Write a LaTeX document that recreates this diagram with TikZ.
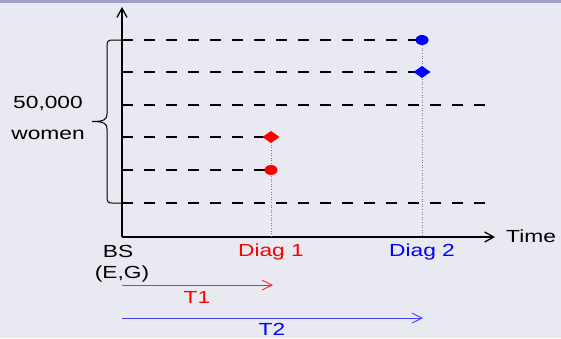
\documentclass[tikz,border=0pt]{standalone}
\usepackage{fontspec}
\setmainfont{Liberation Sans}[FakeStretch=1.3]
\usetikzlibrary{arrows.meta,shapes.geometric}
\definecolor{bg}{RGB}{233,233,242}
\definecolor{band}{RGB}{160,160,204}
\definecolor{myred}{RGB}{255,0,0}
\definecolor{myblue}{RGB}{0,0,255}
\definecolor{arrred}{RGB}{255,40,40}
\definecolor{arrblue}{RGB}{70,70,255}
\begin{document}
\begin{tikzpicture}[x=1pt,y=-1pt,
  lbl/.style={font=\fontsize{17.5}{20}\selectfont, inner sep=0pt},
  dashline/.style={line width=2pt, dash pattern=on 11pt off 11pt},
  axis/.style={line width=1.3pt, -{Straight Barb[length=9pt,width=10pt]}},
  dotline/.style={line width=0.9pt, gray, dash pattern=on 1pt off 1.6pt},
  rnddot/.style={ellipse, minimum width=13pt, minimum height=10pt, inner sep=0pt, outer sep=0pt},
  dmnd/.style={diamond, minimum width=17pt, minimum height=12pt, inner sep=0pt, outer sep=0pt},
  tarrow/.style={line width=0.9pt, -{Straight Barb[length=10pt,width=10pt]}}
]
\useasboundingbox (0,0) rectangle (561,338);
\fill[bg] (0,0) rectangle (561,338);
\fill[band] (0,0) rectangle (561,2.5);

% axes
\coordinate (O) at (122,237);
\coordinate (ytop) at (122,7);
\coordinate (xend) at (495,237);
\draw[axis] (O) -- (ytop);
\draw[axis] (O) -- (xend);
\node[lbl, anchor=west] (time) at (506,236) {Time};

% row starts / ends
\foreach \n/\y in {1/40,2/72,3/105,4/137,5/170,6/203}{
  \coordinate (s\n) at (122,\y);
}
\coordinate (e3) at (485,105);
\coordinate (e6) at (485,203);
\coordinate (d1) at (271,237);
\coordinate (d2) at (422,237);
\coordinate (m1) at (422,40);
\coordinate (m2) at (422,72);
\coordinate (m4) at (271,137);
\coordinate (m5) at (271,170);

\draw[dashline] (s1) -- (m1);
\draw[dashline] (s2) -- (m2);
\draw[dashline] (s3) -- (e3);
\draw[dashline] (s4) -- (m4);
\draw[dashline] (s5) -- (m5);
\draw[dashline] (s6) -- (e6);

\draw[dotline] (m1) -- (d2);
\draw[dotline] (m4) -- (d1);

% markers
\node[rnddot, fill=myblue] (b1) at (m1) {};
\node[dmnd, fill=myblue] (b2) at (m2) {};
\node[dmnd, fill=myred] (r1) at (m4) {};
\node[rnddot, fill=myred] (r2) at (m5) {};

% brace
\draw[line width=1pt] (s1) -- (112,40) .. controls (108.5,40) and (107,41.5) .. (107,45)
  -- (107,114) .. controls (107,119.5) and (104,121.5) .. (92,121.5)
  .. controls (104,121.5) and (107,123.5) .. (107,129)
  -- (107,198) .. controls (107,201.5) and (108.5,203) .. (112,203) -- (s6);
\node[lbl] (n50) at (48,104) {50,000};
\node[lbl] (wom) at (48,135) {women};

% bottom labels
\node[lbl] (bs) at (118,251) {BS};
\node[lbl] (eg) at (122,274) {(E,G)};
\node[lbl, text=myred] (dg1) at (271,252) {Diag 1};
\node[lbl, text=myblue] (dg2) at (422,252) {Diag 2};

% T arrows
\coordinate (t1s) at (122,285);
\coordinate (t1e) at (273,285);
\coordinate (t2s) at (122,318);
\coordinate (t2e) at (423,318);
\draw[tarrow, arrred] (t1s) -- (t1e);
\draw[tarrow, arrblue] (t2s) -- (t2e);
\node[lbl, text=myred] (T1) at (197,297) {T1};
\node[lbl, text=myblue] (T2) at (272,329) {T2};
\end{tikzpicture}
\end{document}
